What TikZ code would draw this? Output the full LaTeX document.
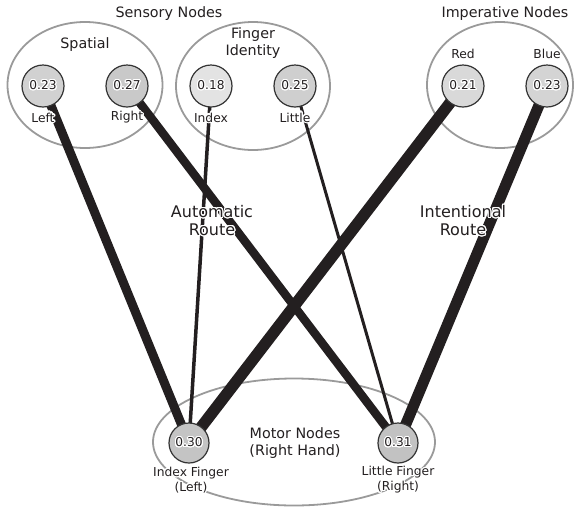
\documentclass[tikz,border=0pt]{standalone}
\usepackage{fontspec}
\setmainfont{DejaVu Sans}
\usepackage{contour}
\contourlength{1.1pt}
\contournumber{24}
\usetikzlibrary{shapes.geometric}

\definecolor{ink}{HTML}{231F20}
\definecolor{rim}{HTML}{9A9A9A}
\definecolor{edge}{HTML}{333333}

\pgfdeclarelayer{groups}
\pgfdeclarelayer{links}
\pgfsetlayers{groups,links,main}

% text with a white halo
\newcommand\hl[1]{\contour{white}{#1}}

\tikzset{
  group/.style={ellipse, draw=rim, line width=1.8pt, inner sep=0pt},
  unit/.style={circle, draw=edge, line width=1.2pt, minimum size=42pt, inner sep=0pt,
    text=ink, font=\fontsize{12.2}{14}\selectfont},
  motor/.style={unit, minimum size=40pt},
  lab/.style={text=ink, align=center, inner sep=0pt, font=\fontsize{12.3}{15}\selectfont},
  head/.style={text=ink, align=center, inner sep=0pt, font=\fontsize{14.3}{17}\selectfont},
  route/.style={text=ink, align=center, inner sep=0pt, font=\fontsize{16}{18}\selectfont},
  link/.style={draw=ink, line cap=butt},
}

\begin{document}
\begin{tikzpicture}[x=1pt, y=-1pt]
\useasboundingbox (0,0) rectangle (574,507);

% groups of units
\begin{pgfonlayer}{groups}
  \node[group, minimum width=155pt, minimum height=126pt] (spatial) at (85,85) {};
  \node[group, minimum width=154pt, minimum height=128pt] (finger) at (253,86) {};
  \node[group, minimum width=146pt, minimum height=126pt] (imper) at (500,85) {};
  \node[group, minimum width=282pt, minimum height=127pt] (motorgrp) at (294,442) {};
\end{pgfonlayer}

% units
\node[unit, fill=black!18] (sl) at (43,86) {\hl{0.23}};
\node[unit, fill=black!21] (sr) at (127,86) {\hl{0.27}};
\node[unit, fill=black!11] (fi) at (211,86) {\hl{0.18}};
\node[unit, fill=black!19] (fl) at (295,86) {\hl{0.25}};
\node[unit, fill=black!15] (ir) at (463,86) {\hl{0.21}};
\node[unit, fill=black!17] (ib) at (547,86) {\hl{0.23}};
\node[motor, fill=black!23] (mi) at (189,443) {\hl{0.30}};
\node[motor, fill=black!24] (ml) at (398,443) {\hl{0.31}};

% weighted connections
\begin{pgfonlayer}{links}
  \draw[link, line width=9pt]    (sl.center) -- (mi.center);
  \draw[link, line width=3.5pt]  (fi.center) -- (mi.center);
  \draw[link, line width=11.5pt] (ir.center) -- (mi.center);
  \draw[link, line width=8.5pt]  (sr.center) -- (ml.center);
  \draw[link, line width=3pt]    (fl.center) -- (ml.center);
  \draw[link, line width=11pt]   (ib.center) -- (ml.center);
\end{pgfonlayer}

% labels
\node[head] (t-sens) at (169,14) {\hl{Sensory Nodes}};
\node[head] (t-imp) at (505,14) {\hl{Imperative Nodes}};
\node[head] (t-spat) at (85,45) {\hl{Spatial}};
\node[head] (t-fing) at (253,43.5) {\hl{Finger}\\\hl{Identity}};
\node[lab] (l-sl) at (43,118) {\hl{Left}};
\node[lab] (l-sr) at (127,118) {\hl{Right}};
\node[lab] (l-fi) at (211,118) {\hl{Index}};
\node[lab] (l-fl) at (295,118) {\hl{Little}};
\node[lab] (l-ir) at (463,54) {\hl{Red}};
\node[lab] (l-ib) at (547,54) {\hl{Blue}};
\node[route] (r-auto) at (212,221) {\hl{Automatic}\\\hl{Route}};
\node[route] (r-int) at (463,221) {\hl{Intentional}\\\hl{Route}};
\node[head] (t-mot) at (295,443.5) {\hl{Motor Nodes}\\\hl{(Right Hand)}};
\node[lab] (l-mi) at (191,480.5) {\hl{Index Finger}\\\hl{(Left)}};
\node[lab] (l-ml) at (398,480.5) {\hl{Little Finger}\\\hl{(Right)}};
\end{tikzpicture}
\end{document}
